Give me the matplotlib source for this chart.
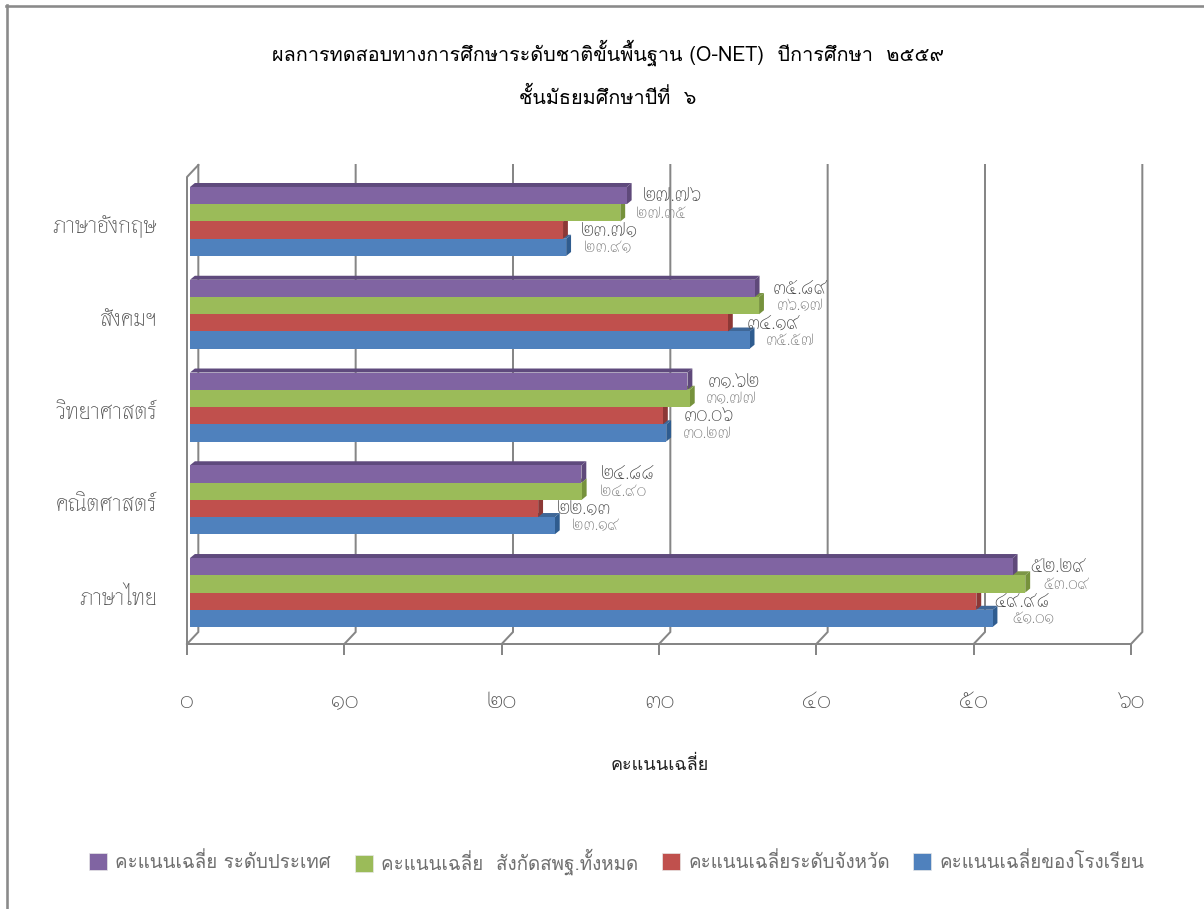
import matplotlib
matplotlib.use('Agg')
import matplotlib.pyplot as plt
from matplotlib.lines import Line2D
from matplotlib.patches import Patch, Polygon
from matplotlib.transforms import ScaledTranslation

FONT = ['Thasadith', 'DejaVu Sans']
MARKFONT = ['Loma', 'DejaVu Sans']   # places stacked tone marks correctly without shaping
plt.rcParams['font.family'] = FONT

categories = ['ภาษาไทย', 'คณิตศาสตร์', 'วิทยาศาสตร์', 'สังคมฯ', 'ภาษาอังกฤษ']
school = [51.01, 23.19, 30.27, 35.57, 23.91]
province = [49.98, 22.13, 30.06, 34.19, 23.71]
obec = [53.09, 24.90, 31.77, 36.17, 27.35]
national = [52.29, 24.88, 31.62, 35.89, 27.76]
tick_values = [0, 10, 20, 30, 40, 50, 60]
series_names = ['คะแนนเฉลี่ยของโรงเรียน', 'คะแนนเฉลี่ยระดับจังหวัด',
                'คะแนนเฉลี่ย  สังกัดสพฐ.ทั้งหมด', 'คะแนนเฉลี่ย ระดับประเทศ']
title_lines = ['ผลการทดสอบทางการศึกษาระดับชาติขั้นพื้นฐาน (O-NET)  ปีการศึกษา  ๒๕๕๙',
               'ชั้นมัธยมศึกษาปีที่  ๖']
x_title = 'คะแนนเฉลี่ย'

W, H = 1204, 909
THAI = str.maketrans('0123456789', '๐๑๒๓๔๕๖๗๘๙')
front = ['#4F81BD', '#C0504D', '#9BBB59', '#8064A2']
side = ['#2F5C8F', '#8C3836', '#76923C', '#5F497A']
top = ['#3F6797', '#9A403E', '#7C9647', '#5F4A7D']
GRAY = '#868686'
TXT = '#555555'
PX = 0.72

fig = plt.figure(figsize=(W / 100, H / 100), dpi=100, facecolor='white')
ax = fig.add_axes([187 / W, 1 - 644 / H, 944 / W, 479 / H])
ax.set_xlim(0, 60)
ax.set_ylim(-0.555, 4.609)
ax.patch.set_alpha(0)

# frame of the picture
fig.add_artist(Line2D([7 / W, 7 / W], [0, 1 - 5 / H], color='#8a8a8a', lw=2.6 * PX))
fig.add_artist(Line2D([6 / W, 1], [1 - 6 / H, 1 - 6 / H], color='#8a8a8a', lw=2.6 * PX))

# walls of the 3-D box
DX, DY = 0.72, 12 / 479
tr = ax.get_xaxis_transform()
for v in tick_values:
    ax.plot([v, v + DX, v + DX], [0, DY, 1], transform=tr, color=GRAY, lw=2 * PX,
            clip_on=False, zorder=1, solid_joinstyle='miter')
ax.plot([0, 0, DX], [0, 1 - DY, 1], transform=tr, color=GRAY, lw=2 * PX, clip_on=False, zorder=1)

for s in ['top', 'right', 'left']:
    ax.spines[s].set_visible(False)
ax.spines['bottom'].set_color(GRAY)
ax.spines['bottom'].set_linewidth(2 * PX)

ax.set_xticks(tick_values)
ax.set_xticklabels([str(v).translate(THAI) for v in tick_values], fontsize=17, color=TXT)
ax.tick_params(axis='x', length=11 * PX, width=2 * PX, color=GRAY, pad=36 * PX)
ax.set_yticks(range(len(categories)))
ax.set_yticklabels(categories, fontsize=16.5, color=TXT)
ax.tick_params(axis='y', length=0, pad=30 * PX)
shift = ScaledTranslation(0, -3 * PX / 72, fig.dpi_scale_trans)
for lab in ax.get_yticklabels():
    lab.set_transform(lab.get_transform() + shift)

# bars: bottom series first, so that each front hides the top face of the bar below
START = 0.19
BH = 17.25 / 92.75
DXB, DYB = 0.31, 0.043
values = [school, province, obec, national]
handles = []
for i, vals in enumerate(values):
    off = (i - 1.5) * BH
    for c, v in enumerate(vals):
        y0, y1 = c + off - BH / 2, c + off + BH / 2
        xe = START + v
        ax.add_patch(Polygon([(START, y1), (START + DXB, y1 + DYB), (xe + DXB, y1 + DYB), (xe, y1)],
                             closed=True, fc=top[i], ec='none', zorder=3 + i))
        ax.add_patch(Polygon([(xe, y0), (xe + DXB, y0 + DYB), (xe + DXB, y1 + DYB), (xe, y1)],
                             closed=True, fc=side[i], ec='none', zorder=3 + i))
    ax.barh([c + off for c in range(len(vals))], vals, height=BH, left=START,
            color=front[i], edgecolor='none', zorder=3 + i)
    handles.append(Patch(facecolor=front[i], edgecolor='#e8e8e8', linewidth=0.5))

# data labels
label_dx = [41, 46, 41, 46]
label_fs = [11.8, 13.7, 11.8, 13.7]
label_col = ['#777777', '#444444', '#777777', '#444444']
for i, vals in enumerate(values):
    off = (i - 1.5) * BH
    for c, v in enumerate(vals):
        ax.annotate(f'{v:.2f}'.translate(THAI), xy=(START + v, c + off),
                    xytext=(label_dx[i] * PX, 0), textcoords='offset points',
                    ha='center', va='center', fontsize=label_fs[i], color=label_col[i],
                    zorder=10, annotation_clip=False)

# titles
fig.text(608 / W, 1 - 53 / H, title_lines[0], ha='center', va='center', fontsize=14.3,
         color='black', family=MARKFONT)
fig.text(608 / W, 1 - 97 / H, title_lines[1], ha='center', va='center', fontsize=14.3,
         color='black', family=MARKFONT)
fig.text(660 / W, 1 - 765 / H, x_title, ha='center', va='center', fontsize=13, color='#222222',
         family=MARKFONT)

# legend, one entry per anchor, in the reference's left-to-right order
legend_x = [913, 662, 355, 89]
LEG = 13.5
for i in range(4):
    fig.legend(handles=[handles[i]], labels=[series_names[i]], loc='center left',
               bbox_to_anchor=(legend_x[i] / W, 1 - 862 / H), frameon=False,
               prop={'family': MARKFONT, 'size': LEG},
               labelcolor='#707070', borderpad=0, borderaxespad=0,
               handlelength=18 * PX / LEG, handleheight=20 * PX / LEG, handletextpad=0.45)

fig.savefig('out.png', dpi=100)
